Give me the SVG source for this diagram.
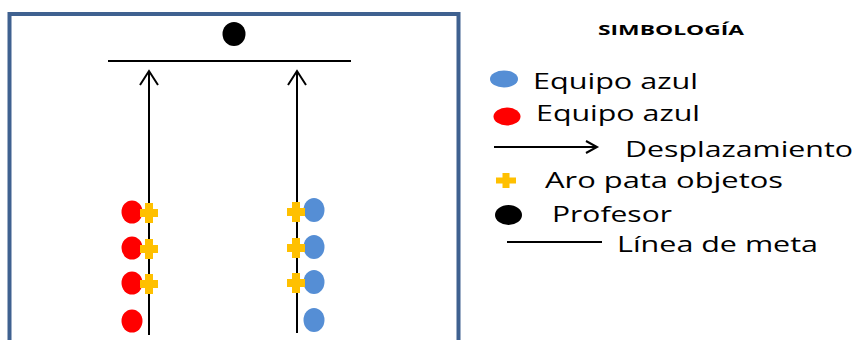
<svg xmlns="http://www.w3.org/2000/svg" width="859" height="340" viewBox="0 0 859 340">
<style>
.ln{stroke:#000;stroke-width:2;fill:none}
.hd{stroke:#000;stroke-width:2;fill:none;stroke-linejoin:miter}
.red{fill:#FF0000}
.blue{fill:#558ED5}
.yel{fill:#FFC000}
.txt{font-family:"Open Sans","Liberation Sans",sans-serif;font-size:22px;fill:#000}
.ttl{font-family:"Open Sans","Liberation Sans",sans-serif;font-size:14px;font-weight:bold;fill:#000}
</style>
<defs>
<path id="plus" d="M-4,-10 h8 v6 h5 v8 h-5 v6 h-8 v-6 h-5 v-8 h5 z"/>
</defs>
<rect width="859" height="340" fill="#fff"/>
<g id="field">
<path d="M9.5,345 V14 H458.5 V345" fill="none" stroke="#3F6190" stroke-width="4"/>
</g>
<g id="connectors">
<line class="ln" x1="108" y1="61" x2="351" y2="61"/>
<line class="ln" x1="149" y1="71" x2="149" y2="335"/>
<path class="hd" d="M140,85 L149,71 L158,85"/>
<line class="ln" x1="297" y1="71" x2="297" y2="333"/>
<path class="hd" d="M288,85 L297,71 L306,85"/>
</g>
<g id="profesor"><ellipse cx="234" cy="34" rx="11.5" ry="12" fill="#000"/></g>
<g id="equipo-rojo">
<ellipse class="red" cx="132" cy="212" rx="10.5" ry="11.5"/>
<ellipse class="red" cx="132" cy="248" rx="10.5" ry="11.5"/>
<ellipse class="red" cx="132" cy="283" rx="10.5" ry="11.5"/>
<ellipse class="red" cx="132" cy="321" rx="10.5" ry="11.5"/>
</g>
<g id="equipo-azul">
<ellipse class="blue" cx="314" cy="210" rx="10.5" ry="12"/>
<ellipse class="blue" cx="314" cy="247" rx="10.5" ry="12"/>
<ellipse class="blue" cx="314" cy="282" rx="10.5" ry="12"/>
<ellipse class="blue" cx="314" cy="320" rx="10.5" ry="12"/>
</g>
<g id="aros">
<use href="#plus" class="yel" x="149" y="213"/>
<use href="#plus" class="yel" x="149" y="249"/>
<use href="#plus" class="yel" x="149" y="284"/>
<use href="#plus" class="yel" x="296" y="212"/>
<use href="#plus" class="yel" x="296" y="248"/>
<use href="#plus" class="yel" x="296" y="283"/>
</g>
<g id="simbologia">
<text class="ttl" x="598" y="35" textLength="146" lengthAdjust="spacingAndGlyphs">SIMBOLOGÍA</text>
</g>
<g id="leg-azul">
<ellipse class="blue" cx="504" cy="79" rx="14" ry="8.5"/>
<text class="txt" x="533" y="89" textLength="165" lengthAdjust="spacingAndGlyphs">Equipo azul</text>
</g>
<g id="leg-rojo">
<ellipse class="red" cx="507" cy="116.5" rx="13.5" ry="9"/>
<text class="txt" x="536" y="121" textLength="164" lengthAdjust="spacingAndGlyphs">Equipo azul</text>
</g>
<g id="leg-desplazamiento">
<line class="ln" x1="494" y1="147" x2="596" y2="147"/>
<path class="hd" d="M586,141 L597,147 L586,153"/>
<text class="txt" x="625" y="157" textLength="228" lengthAdjust="spacingAndGlyphs">Desplazamiento</text>
</g>
<g id="leg-aro">
<path class="yel" d="M502.5,173 h7 v4.5 h6.5 v6 h-6.5 v4.5 h-7 v-4.5 h-6.5 v-6 h6.5 z"/>
<text class="txt" x="545" y="188" textLength="238" lengthAdjust="spacingAndGlyphs">Aro pata objetos</text>
</g>
<g id="leg-profesor">
<ellipse cx="508.5" cy="215" rx="13.5" ry="10" fill="#000"/>
<text class="txt" x="552" y="222" textLength="120" lengthAdjust="spacingAndGlyphs">Profesor</text>
</g>
<g id="leg-meta">
<line class="ln" x1="507" y1="242" x2="602" y2="242"/>
<text class="txt" x="617" y="252" textLength="201" lengthAdjust="spacingAndGlyphs">Línea de meta</text>
</g>
</svg>
